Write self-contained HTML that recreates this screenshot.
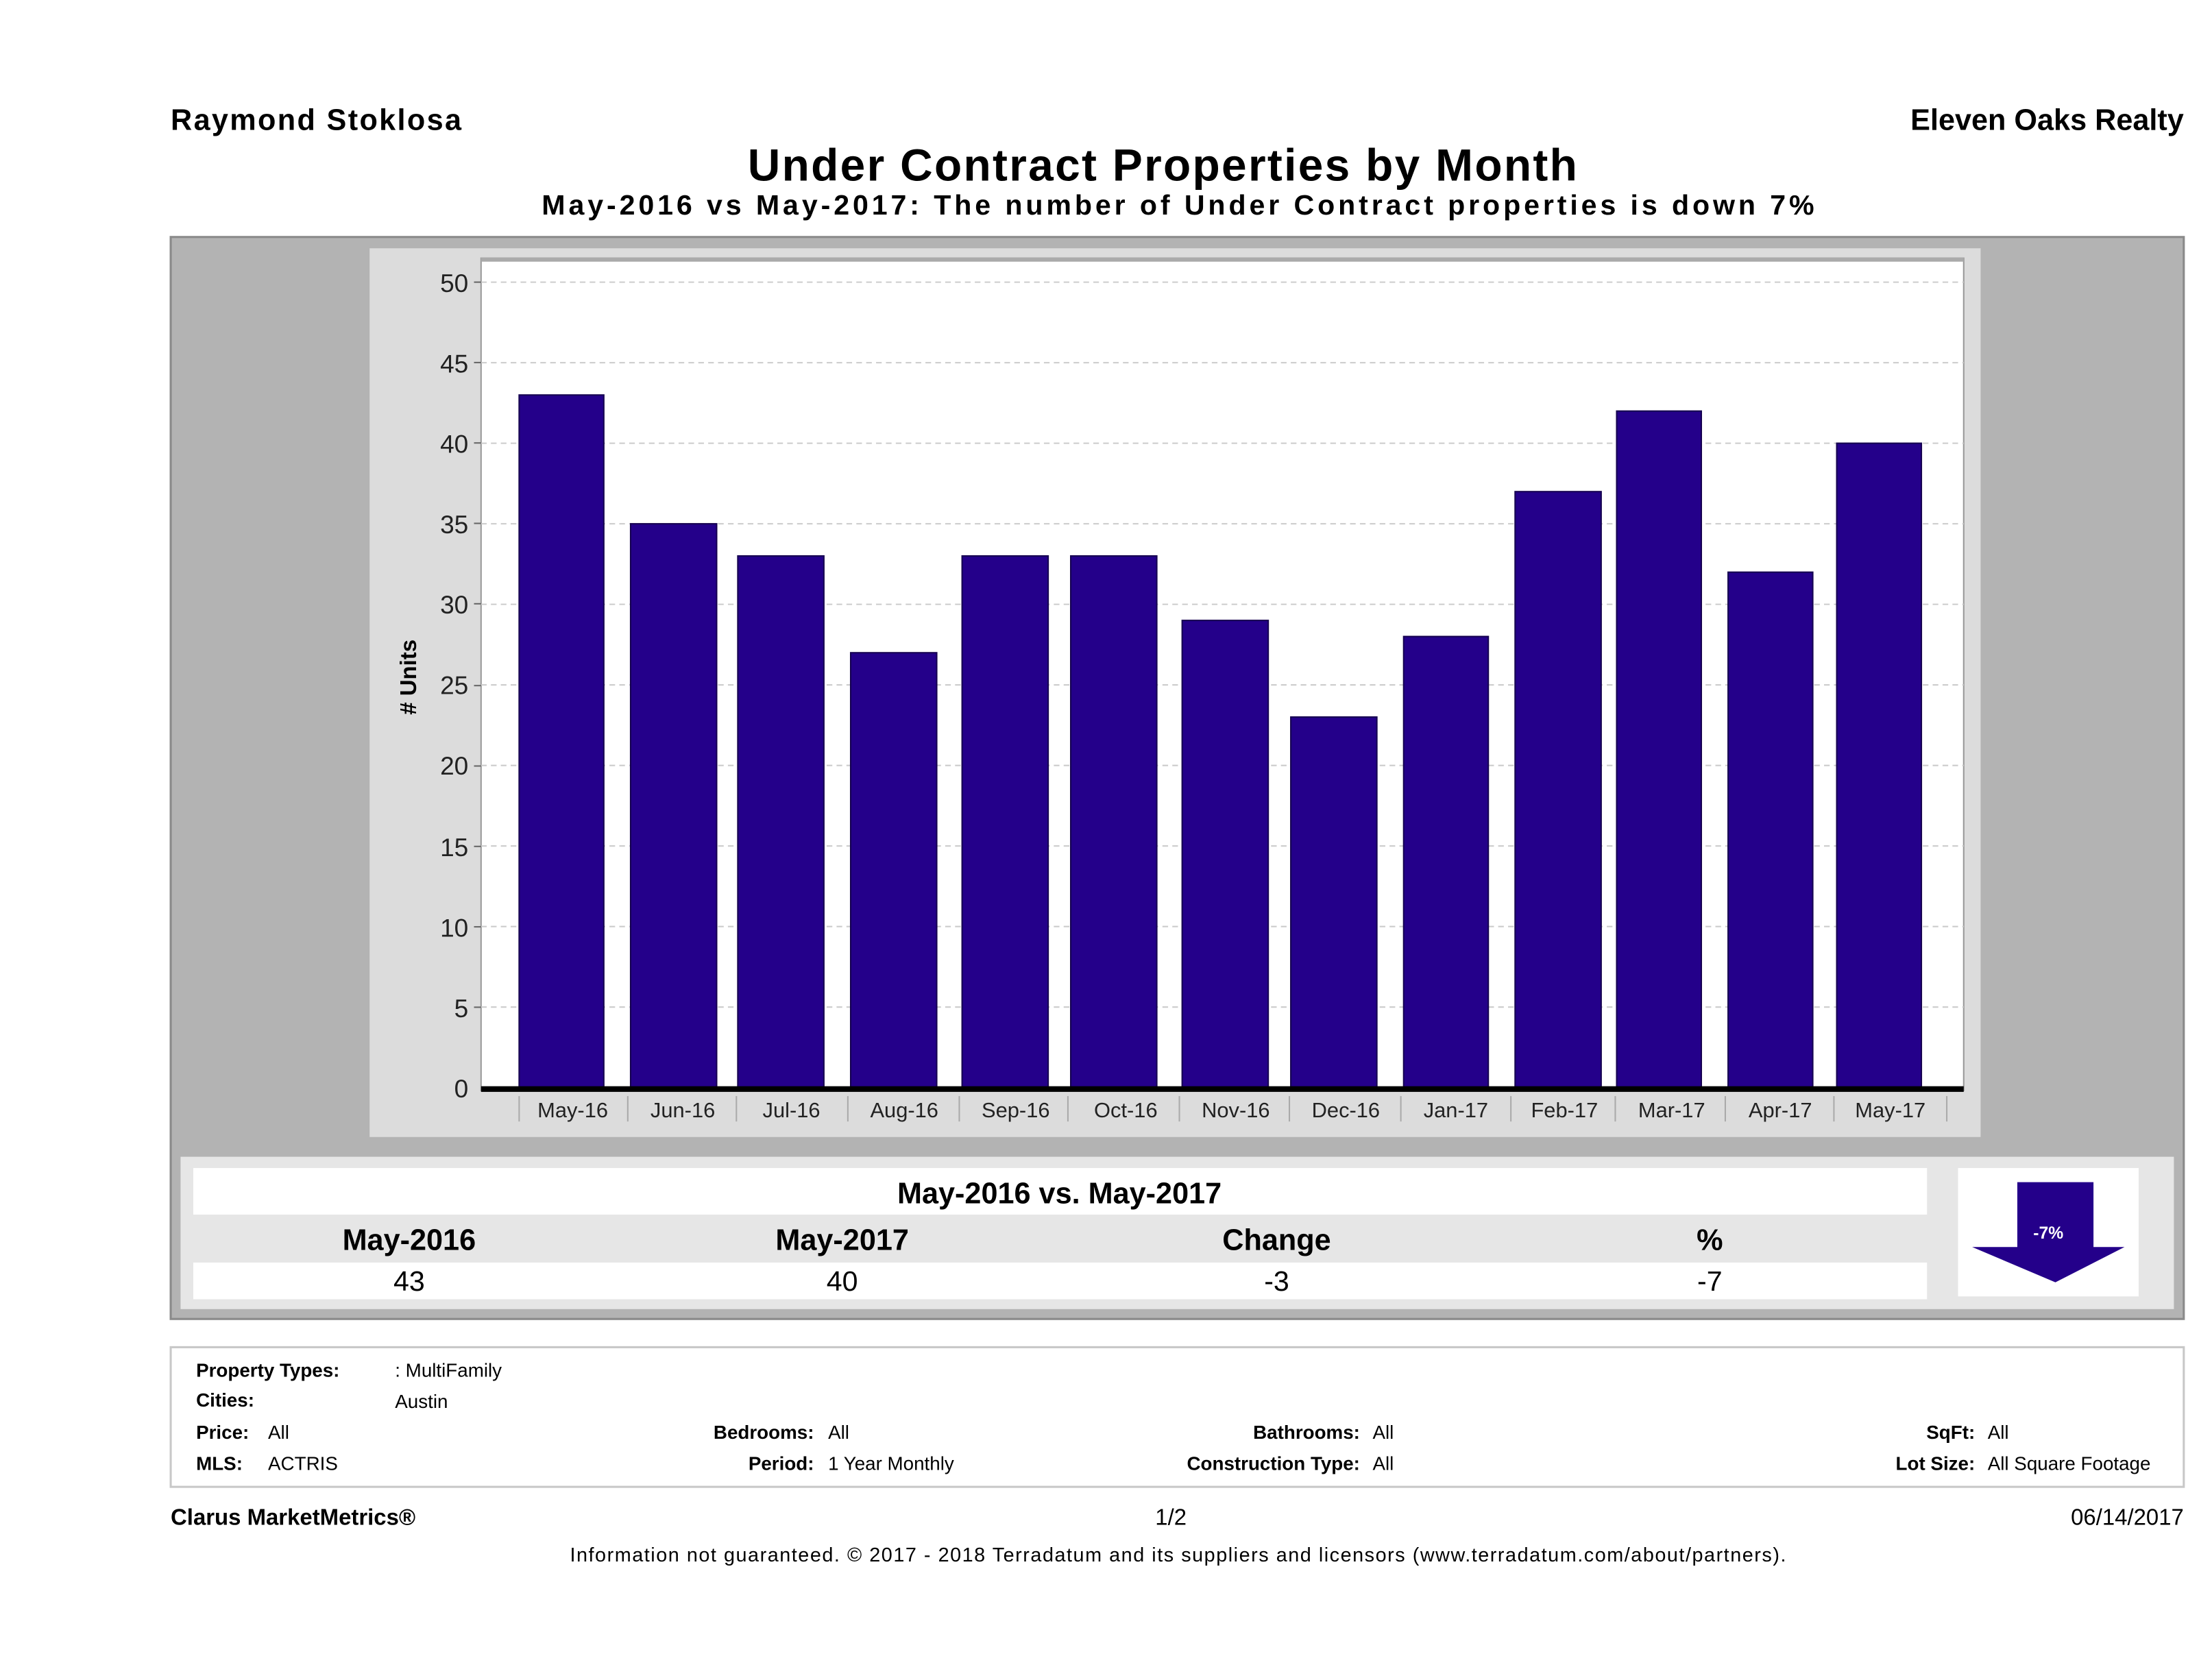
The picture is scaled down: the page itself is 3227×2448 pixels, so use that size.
<!DOCTYPE html>
<html><head><meta charset="utf-8"><style>html,body{margin:0;padding:0;background:#fff}svg{display:block}text{font-family:"Liberation Sans",sans-serif}</style></head><body>
<svg width="3227" height="2448" viewBox="0 0 1568 1189.5" xmlns="http://www.w3.org/2000/svg">
<rect width="1568" height="1190" fill="#fff"/>
<text x="121" y="92" font-size="21" font-weight="bold" textLength="206">Raymond Stoklosa</text>
<text x="1548" y="92" font-size="21" font-weight="bold" text-anchor="end">Eleven Oaks Realty</text>
<text x="824" y="128" font-size="32" font-weight="bold" text-anchor="middle" textLength="588">Under Contract Properties by Month</text>
<text x="835" y="152" font-size="20" font-weight="bold" text-anchor="middle" textLength="902">May-2016 vs May-2017: The number of Under Contract   properties is down 7%</text>
<rect x="121" y="168" width="1427" height="767" fill="#b3b3b3" stroke="#8a8a8a" stroke-width="1.5"/>
<rect x="262" y="176" width="1142" height="630" fill="#dcdcdc"/>
<rect x="341" y="183" width="1051" height="590" fill="#fff" stroke="#999" stroke-width="1"/>
<line x1="341" y1="184" x2="1392" y2="184" stroke="#aaa" stroke-width="3"/>
<g stroke="#ccc" stroke-width="1" stroke-dasharray="4,3">
<line x1="341" y1="200" x2="1392" y2="200"/><line x1="341" y1="257.1" x2="1392" y2="257.1"/><line x1="341" y1="314.2" x2="1392" y2="314.2"/><line x1="341" y1="371.3" x2="1392" y2="371.3"/><line x1="341" y1="428.4" x2="1392" y2="428.4"/><line x1="341" y1="485.5" x2="1392" y2="485.5"/><line x1="341" y1="542.6" x2="1392" y2="542.6"/><line x1="341" y1="599.7" x2="1392" y2="599.7"/><line x1="341" y1="656.8" x2="1392" y2="656.8"/><line x1="341" y1="713.9" x2="1392" y2="713.9"/>
</g>
<g font-size="18" fill="#222" text-anchor="end">
<text x="332" y="207">50</text><text x="332" y="264">45</text><text x="332" y="321">40</text><text x="332" y="378">35</text><text x="332" y="435">30</text><text x="332" y="492">25</text><text x="332" y="549">20</text><text x="332" y="607">15</text><text x="332" y="664">10</text><text x="332" y="721">5</text><text x="332" y="778">0</text>
</g>
<g stroke="#666"><line x1="336" y1="200" x2="341" y2="200"/><line x1="336" y1="257" x2="341" y2="257"/><line x1="336" y1="314" x2="341" y2="314"/><line x1="336" y1="371" x2="341" y2="371"/><line x1="336" y1="428" x2="341" y2="428"/><line x1="336" y1="486" x2="341" y2="486"/><line x1="336" y1="543" x2="341" y2="543"/><line x1="336" y1="600" x2="341" y2="600"/><line x1="336" y1="657" x2="341" y2="657"/><line x1="336" y1="714" x2="341" y2="714"/></g>
<text transform="translate(295,480) rotate(-90)" font-size="16" font-weight="bold" text-anchor="middle">#  Units</text>
<g fill="#24008a" stroke="#150050" stroke-width="1">
<rect x="368" y="280" width="60" height="491"/>
<rect x="447" y="371.3" width="61" height="399.7"/>
<rect x="523" y="394.1" width="61" height="376.9"/>
<rect x="603" y="462.7" width="61" height="308.3"/>
<rect x="682" y="394.1" width="61" height="376.9"/>
<rect x="759" y="394.1" width="61" height="376.9"/>
<rect x="838" y="439.8" width="61" height="331.2"/>
<rect x="915" y="508.3" width="61" height="262.7"/>
<rect x="995" y="451.2" width="60" height="319.8"/>
<rect x="1074" y="348.5" width="61" height="422.5"/>
<rect x="1146" y="291.4" width="60" height="479.6"/>
<rect x="1225" y="405.6" width="60" height="365.4"/>
<rect x="1302" y="314.2" width="60" height="456.8"/>
</g>
<rect x="341" y="770" width="1051" height="4" fill="#000"/>
<g stroke="#aaa" stroke-width="1">
<line x1="368" y1="777" x2="368" y2="795"/><line x1="445" y1="777" x2="445" y2="795"/><line x1="522" y1="777" x2="522" y2="795"/><line x1="601" y1="777" x2="601" y2="795"/><line x1="680" y1="777" x2="680" y2="795"/><line x1="757" y1="777" x2="757" y2="795"/><line x1="836" y1="777" x2="836" y2="795"/><line x1="914" y1="777" x2="914" y2="795"/><line x1="993" y1="777" x2="993" y2="795"/><line x1="1071" y1="777" x2="1071" y2="795"/><line x1="1145" y1="777" x2="1145" y2="795"/><line x1="1223" y1="777" x2="1223" y2="795"/><line x1="1300" y1="777" x2="1300" y2="795"/><line x1="1380" y1="777" x2="1380" y2="795"/>
</g>
<g font-size="15" fill="#222" text-anchor="middle">
<text x="406" y="792">May-16</text><text x="484" y="792">Jun-16</text><text x="561" y="792">Jul-16</text><text x="641" y="792">Aug-16</text><text x="720" y="792">Sep-16</text><text x="798" y="792">Oct-16</text><text x="876" y="792">Nov-16</text><text x="954" y="792">Dec-16</text><text x="1032" y="792">Jan-17</text><text x="1109" y="792">Feb-17</text><text x="1185" y="792">Mar-17</text><text x="1262" y="792">Apr-17</text><text x="1340" y="792">May-17</text>
</g>
<rect x="128" y="820" width="1413" height="108" fill="#e6e6e6"/>
<rect x="137" y="828" width="1229" height="33" fill="#fff"/>
<rect x="137" y="895" width="1229" height="26" fill="#fff"/>
<text x="751" y="853" font-size="21" font-weight="bold" text-anchor="middle">May-2016 vs. May-2017</text>
<g font-size="21" font-weight="bold" text-anchor="middle">
<text x="290" y="886">May-2016</text><text x="597" y="886">May-2017</text><text x="905" y="886">Change</text><text x="1212" y="886">%</text>
</g>
<g font-size="20" text-anchor="middle">
<text x="290" y="915">43</text><text x="597" y="915">40</text><text x="905" y="915">-3</text><text x="1212" y="915">-7</text>
</g>
<rect x="1388" y="828" width="128" height="91" fill="#fff"/>
<polygon points="1430,838 1484,838 1484,884 1506,884 1457,909 1398,884 1430,884" fill="#24008a"/>
<text x="1452" y="878" font-size="12" font-weight="bold" fill="#fff" text-anchor="middle">-7%</text>
<rect x="121" y="955" width="1427" height="99" fill="#fff" stroke="#c8c8c8" stroke-width="1.5"/>
<g font-size="13.5">
<text x="139" y="976" font-weight="bold">Property Types:</text><text x="280" y="976">: MultiFamily</text>
<text x="139" y="997" font-weight="bold">Cities:</text><text x="280" y="998">Austin</text>
<text x="139" y="1020" font-weight="bold">Price:</text><text x="190" y="1020">All</text>
<text x="139" y="1042" font-weight="bold">MLS:</text><text x="190" y="1042">ACTRIS</text>
<text x="577" y="1020" font-weight="bold" text-anchor="end">Bedrooms:</text><text x="587" y="1020">All</text>
<text x="577" y="1042" font-weight="bold" text-anchor="end">Period:</text><text x="587" y="1042">1 Year Monthly</text>
<text x="964" y="1020" font-weight="bold" text-anchor="end">Bathrooms:</text><text x="973" y="1020">All</text>
<text x="964" y="1042" font-weight="bold" text-anchor="end">Construction Type:</text><text x="973" y="1042">All</text>
<text x="1400" y="1020" font-weight="bold" text-anchor="end">SqFt:</text><text x="1409" y="1020">All</text>
<text x="1400" y="1042" font-weight="bold" text-anchor="end">Lot Size:</text><text x="1409" y="1042">All Square Footage</text>
</g>
<text x="121" y="1081" font-size="16" font-weight="bold">Clarus MarketMetrics®</text>
<text x="830" y="1081" font-size="16" text-anchor="middle">1/2</text>
<text x="1548" y="1081" font-size="16" text-anchor="end">06/14/2017</text>
<text x="835" y="1107" font-size="14" text-anchor="middle" textLength="862">Information not guaranteed. © 2017 - 2018 Terradatum and its suppliers and licensors (www.terradatum.com/about/partners).</text>
</svg>
</body></html>
